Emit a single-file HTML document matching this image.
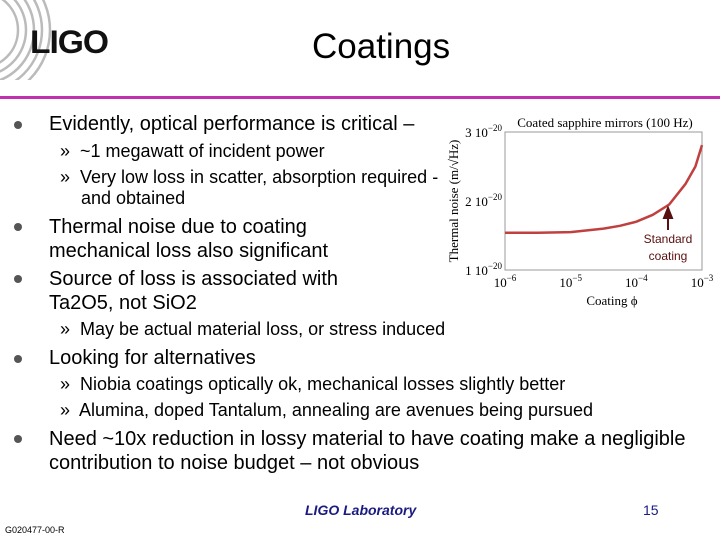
<!DOCTYPE html>
<html><head><meta charset="utf-8"><style>
body{margin:0;width:720px;height:540px;background:#fff;position:relative;overflow:hidden;font-family:"Liberation Sans",sans-serif;color:#000}
.a{position:absolute;white-space:nowrap}
.b{font-size:20px}
.s{font-size:18px}
.dot{position:absolute;width:8px;height:8px;border-radius:50%;background:#555}
</style></head><body>
<svg class="a" style="left:0;top:0" width="60" height="80">
<g fill="none" stroke="#bbb" stroke-width="2.5">
<circle cx="-20" cy="30" r="38"/><circle cx="-20" cy="30" r="46"/><circle cx="-20" cy="30" r="54"/><circle cx="-20" cy="30" r="62"/><circle cx="-20" cy="30" r="70"/></g></svg>
<div class="a" style="left:30px;top:24px;font-size:32px;font-weight:bold;letter-spacing:-1px;color:#111;transform:scaleX(1.05);transform-origin:left">LIGO</div>
<div class="a" style="left:312px;top:27px;font-size:35px">Coatings</div>
<div class="a" style="left:0;top:96px;width:720px;height:3px;background:#c030b0"></div>

<div class="dot" style="left:14px;top:121px"></div>
<div class="a b" style="left:49px;top:113px">Evidently, optical performance is critical –</div>
<div class="a s" style="left:60px;top:141px">»&nbsp; ~1 megawatt of incident power</div>
<div class="a s" style="left:60px;top:167px">»&nbsp; Very low loss in scatter, absorption required -</div>
<div class="a s" style="left:81px;top:188px">and obtained</div>
<div class="dot" style="left:14px;top:223px"></div>
<div class="a b" style="left:49px;top:215px;line-height:24px">Thermal noise due to coating<br>mechanical loss also significant</div>
<div class="dot" style="left:14px;top:275px"></div>
<div class="a b" style="left:49px;top:267px;line-height:24px">Source of loss is associated with<br>Ta2O5, not SiO2</div>
<div class="a s" style="left:60px;top:319px">»&nbsp; May be actual material loss, or stress induced</div>
<div class="dot" style="left:14px;top:355px"></div>
<div class="a b" style="left:49px;top:347px">Looking for alternatives</div>
<div class="a s" style="left:60px;top:374px">»&nbsp; Niobia coatings optically ok, mechanical losses slightly better</div>
<div class="a s" style="left:60px;top:400px">»&nbsp; Alumina, doped Tantalum, annealing are avenues being pursued</div>
<div class="dot" style="left:14px;top:435px"></div>
<div class="a b" style="left:49px;top:427px;line-height:24px">Need ~10x reduction in lossy material to have coating make a negligible<br>contribution to noise budget – not obvious</div>

<div class="a" style="left:305px;top:502px;font-size:14px;font-style:italic;font-weight:bold;color:#1a1a80">LIGO Laboratory</div>
<div class="a" style="left:643px;top:502px;font-size:14px;color:#1a1a80">15</div>
<div class="a" style="left:5px;top:525px;font-size:9px">G020477-00-R</div>

<svg class="a" id="chart" style="left:440px;top:100px" width="280" height="220"></svg>
<script>
const xTicksExp=[-6,-5,-4,-3];
const yTicks=[1,2,3];
const phiLog=[-6,-5.5,-5,-4.5,-4.25,-4,-3.75,-3.5,-3.25,-3.1,-3];
const noise=[1.54,1.54,1.55,1.6,1.64,1.70,1.8,1.95,2.25,2.5,2.81];
const ns='http://www.w3.org/2000/svg';
const svg=document.getElementById('chart');
const X0=65,X1=262,Y0=170,Y1=32;
const xs=v=>X0+(v+6)/3*(X1-X0);
const ys=v=>Y0-(v-1)/2*(Y0-Y1);
function mk(t,a,txt){const e=document.createElementNS(ns,t);for(const k in a)e.setAttribute(k,a[k]);if(txt!==undefined)e.textContent=txt;svg.appendChild(e);return e;}
const fr=mk('rect',{x:X0,y:Y1,width:X1-X0,height:Y0-Y1,fill:'none',stroke:'#999','stroke-width':1});

const tt=mk('text',{x:165,y:27,'text-anchor':'middle','font-family':'Liberation Serif',
'font-size':13},'Coated sapphire mirrors (100 Hz)');

xTicksExp.forEach(e=>{const g=mk('text',{x:xs(e),y:187,'text-anchor':'middle','font-family':'Liberation Serif','font-size':13});
g.innerHTML='10<tspan dy="-6" font-size="9">'+String(e).replace('-','\u2212')+'</tspan>';
});
yTicks.forEach(v=>{const g=mk('text',{x:X0-3,y:ys(v)+5,'text-anchor':'end','font-family':'Liberation Serif','font-size':13});
g.innerHTML=v+' 10<tspan dy="-6" font-size="9">\u221220</tspan>';
});
const xl=mk('text',{x:172,y:205,'text-anchor':'middle','font-family':'Liberation Serif','font-size':13},'Coating \u03d5');

const yl=mk('text',{x:0,y:0,transform:'translate(18,101) rotate(-90)','text-anchor':'middle','font-family':'Liberation Serif','font-size':13},'Thermal noise (m/\u221aHz)');

let d='';phiLog.forEach((p,i)=>{d+=(i?'L':'M')+xs(p).toFixed(1)+','+ys(noise[i]).toFixed(1);});
const ln=mk('path',{d:d,fill:'none',stroke:'#c04040','stroke-width':2.5,'stroke-linejoin':'round'});

const ar=mk('path',{d:'M228,130 L228,112 M224,118 L228,108 L232,118 Z',stroke:'#5a1010','stroke-width':2,fill:'#5a1010'});

const a1=mk('text',{x:228,y:143,'text-anchor':'middle','font-family':'Liberation Sans','font-size':12,fill:'#5a1010'},'Standard');

const a2=mk('text',{x:228,y:160,'text-anchor':'middle','font-family':'Liberation Sans','font-size':12,fill:'#5a1010'},'coating');

</script>
</body></html>
